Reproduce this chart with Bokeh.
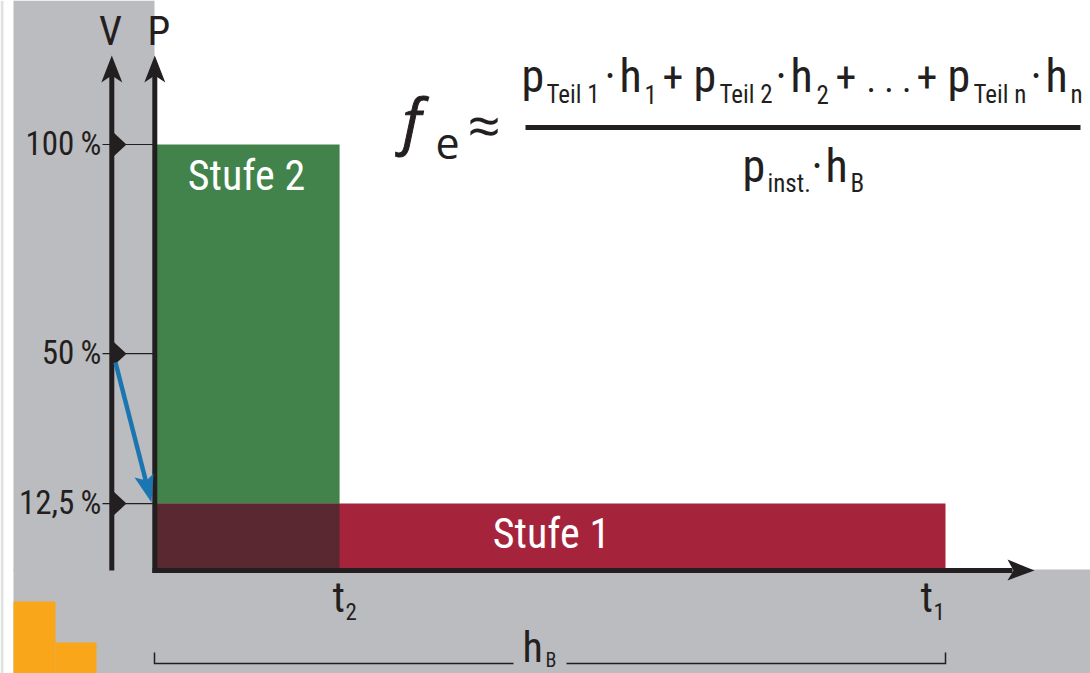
from bokeh.plotting import figure
from bokeh.embed import file_html
from bokeh.resources import INLINE
from bokeh.core.properties import value

# data values (percent of power, percent of time span)
stufe_names = ["Stufe 1", "Stufe 2"]
stufe_end_time = [100.0, 23.4]
stufe_power = [15.7, 100.0]
stufe_colors = ["#A6233C", "#41834A"]
overlap_color = "#5A2830"
v_tick_labels = ["100\u2009%", "50\u2009%", "12,5\u2009%"]
v_tick_power = [100.0, 50.9, 15.7]

W, H = 1090, 673
X0, XS = 154.0, 7.91
Y0, YS = 570.0, 4.26
def dx(px): return (px - X0) / XS
def dy(py): return (Y0 - py) / YS
def DX(l): return [dx(v) for v in l]
def DY(l): return [dy(v) for v in l]
def py_of_p(v): return Y0 - v * YS

INK = "#231F20"
GRAY = "#BBBCBF"
FONT = "Roboto Condensed"
K = 0.36

p = figure(width=W, height=H, x_range=(dx(0), dx(W)), y_range=(dy(H), dy(0)),
           output_backend="svg", toolbar_location=None, min_border=0,
           outline_line_color=None, background_fill_color="white",
           border_fill_color="white")
p.axis.visible = False
p.grid.visible = False
p.styles = {"position": "absolute", "left": "0px", "top": "0px"}

def rect(x1, y1, x2, y2, c):
    p.quad(left=dx(x1), right=dx(x2), top=dy(y1), bottom=dy(y2), fill_color=c, line_color=None)

rect(0, 0, 3, H, "#E0E1E3")
rect(13, 0, 154, 571, GRAY)
rect(13, 569, W, H, GRAY)
rect(13, 601, 55, H, "#FAA61A")
rect(55, 642, 96, H, "#FAA61A")

# bars
bar_left = dx(156)
bar_floor = dy(568)
p.quad(left=bar_left, right=stufe_end_time[0], bottom=bar_floor, top=stufe_power[0],
       fill_color=stufe_colors[0], line_color=None)
p.quad(left=bar_left, right=stufe_end_time[1], bottom=stufe_power[0], top=stufe_power[1],
       fill_color=stufe_colors[1], line_color=None)
p.quad(left=bar_left, right=stufe_end_time[1], bottom=bar_floor, top=stufe_power[0],
       fill_color=overlap_color, line_color=None)

def line(xs, ys, w, c=INK):
    p.line(DX(xs), DY(ys), line_width=w, line_color=c, line_cap="butt", line_join="miter")

def poly(xs, ys, c=INK):
    p.patch(DX(xs), DY(ys), fill_color=c, line_color=None)

# tick lines & markers
for v in v_tick_power:
    y = py_of_p(v)
    line([102, 154], [y, y], 1.2)
    poly([113, 126, 113], [y - 12, y, y + 12])

# axes
line([111.3, 111.3], [72, 570], 5)
line([154.3, 154.3], [72, 572.5], 5)
line([152, 1012], [570, 570], 5)
for x in (111.3, 154.3):
    poly([x, x + 10.5, x, x - 10.5], [55, 82, 75, 82])
poly([1034, 1007, 1013, 1007], [570, 559, 570, 580])

# blue arrow
BLUE = "#1B75B0"
line([115, 147], [362, 487], 4.5, BLUE)
poly([151, 134, 146, 153], [502, 477, 480, 473], BLUE)

# bracket
line([154, 154, 513], [652, 663, 663], 1.5)
line([566, 945, 945], [663, 663, 652], 1.5)

def text(x, y, s, size, color=INK, align="left", font=FONT, style="normal", outline=None):
    p.text([dx(x)], [dy(y - K * size)], text=[s], text_font=value(font), text_font_size=f"{size}px",
           text_color=color, text_align=align, text_baseline="alphabetic", text_font_style=style,
           text_outline_color=outline)

text(110, 45, "V", 41, align="center")
text(147, 45, "P", 41)
for v, s in zip(v_tick_power, v_tick_labels):
    text(101, py_of_p(v) + 11, s, 33, align="right")

text(246, 190, stufe_names[1], 42, "white", "center")
text(551, 548, stufe_names[0], 42, "white", "center")

text(332, 612, "t", 42)
text(345, 619, "2", 23)
text(920, 612, "t", 42)
text(933, 619, "1", 23)
text(522, 662, "h", 42)
text(545, 667, "B", 20)

# formula
text(402, 141, "f", 60, font="Open Sans", style="italic", outline=INK)
text(435, 158, "e", 43, font="Open Sans")
text(467, 145, "\u2248", 58, font="Open Sans")
line([525, 1080], [127, 127], 5)
BASE, SUB = 92, 103
parts = [
    (521, "p", 46, BASE), (546, "Teil 1", 25, SUB), (604, "\u00b7", 46, BASE), (619, "h", 46, BASE), (644, "1", 25, SUB),
    (662, "+", 42, BASE), (693, "p", 46, BASE), (719, "Teil 2", 25, SUB), (775, "\u00b7", 46, BASE), (790, "h", 46, BASE),
    (816, "2", 25, SUB), (835, "+", 42, BASE), (866, ". . .", 36, BASE), (916, "+", 42, BASE), (947, "p", 46, BASE),
    (973, "Teil n", 25, SUB), (1030, "\u00b7", 46, BASE), (1045, "h", 46, BASE), (1070, "n", 25, SUB),
    (742, "p", 46, 182), (767, "inst.", 25, 192), (811, "\u00b7", 46, 182), (825, "h", 46, 182), (850, "B", 25, 192),
]
for x, s, size, base in parts:
    text(x, base, s, size)

open("out.html", "w").write(file_html(p, INLINE))
